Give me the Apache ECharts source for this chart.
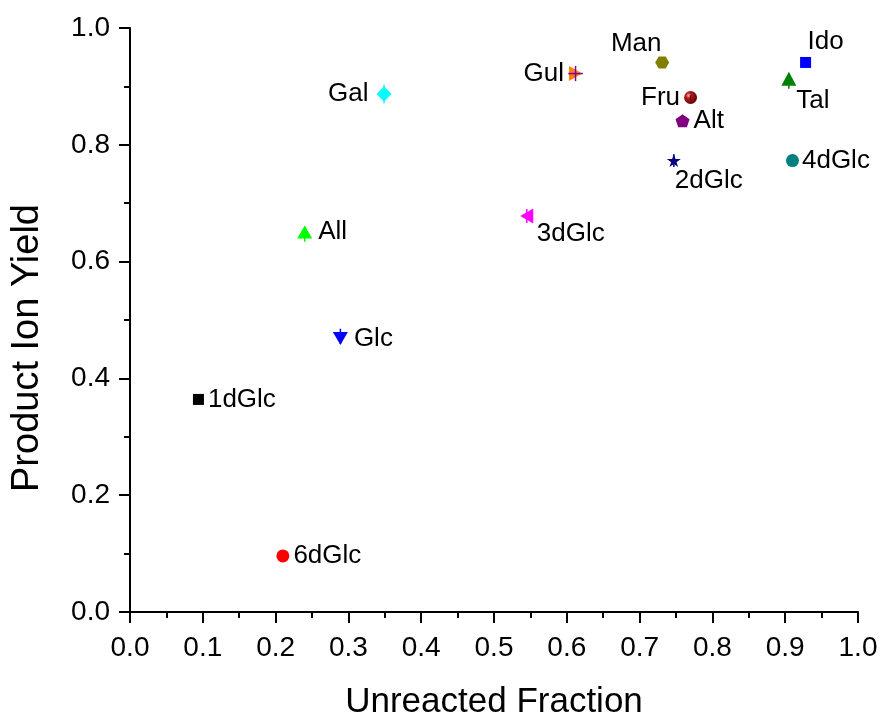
<!DOCTYPE html>
<html>
<head>
<meta charset="utf-8">
<script src="https://cdn.jsdelivr.net/npm/echarts@6/dist/echarts.min.js"></script>
<style>
  html, body { margin: 0; padding: 0; background: #fff; }
  #chart { width: 882px; height: 713px; }
</style>
</head>
<body>
<div id="chart"></div>
<script>
// Sugar isomers: unreacted fraction vs. product ion yield
const sugars        = ['1dGlc', '6dGlc', 'All', 'Glc', 'Gal', '3dGlc', 'Gul', 'Man', 'Fru', 'Alt', '2dGlc', 'Ido', 'Tal', '4dGlc'];
const unreacted     = [0.094, 0.210, 0.240, 0.289, 0.349, 0.545, 0.612, 0.731, 0.770, 0.759, 0.747, 0.928, 0.905, 0.910];
const ionYield      = [0.364, 0.096, 0.647, 0.472, 0.887, 0.678, 0.922, 0.941, 0.881, 0.841, 0.773, 0.941, 0.909, 0.773];
const ionYieldErr   = [0.004, 0.004, 0.013, 0.013, 0.016, 0.012, 0.013, 0.004, 0.004, 0.004, 0.011, 0.004, 0.013, 0.004];
const unreactedErr  = [0, 0, 0, 0, 0, 0.004, 0.010, 0, 0, 0, 0, 0, 0, 0];
const axisTicks     = [0, 0.1, 0.2, 0.3, 0.4, 0.5, 0.6, 0.7, 0.8, 0.9, 1.0];

const FONT = '"Liberation Sans", Arial, sans-serif';

const HEXAGON  = 'path://M0,6L3.5,0L10.5,0L14,6L10.5,12L3.5,12Z';
const PENTAGON = 'path://M10,0L20,7.3L16.2,19L3.8,19L0,7.3Z';
const STAR     = 'path://M10,0L12.4,7.2L20,7.2L13.8,11.8L16.2,19L10,14.5L3.8,19L6.2,11.8L0,7.2L7.6,7.2Z';

// marker look and label placement for each sugar
// (triangles pointing up/down sit on their centroid)
const markerStyle = {
  '1dGlc': { symbol: 'rect', size: 11, color: '#000000', label: { position: 'right', distance: 4 } },
  '6dGlc': { symbol: 'circle', size: 13, color: '#ff0000', label: { position: 'right', distance: 4 } },
  'All':   { symbol: 'triangle', size: [15, 13], offset: [0, -2.2], color: '#00ff00', label: { position: 'right', distance: 6 } },
  'Glc':   { symbol: 'triangle', size: [15, 13], offset: [0, 2.2], rotate: 180, color: '#0000ff', label: { position: 'right', distance: 6 } },
  'Gal':   { symbol: 'diamond', size: [15, 15], color: '#00ffff', label: { position: 'left', distance: 8 } },
  '3dGlc': { symbol: 'triangle', size: [15, 13], rotate: 90, color: '#ff00ff', label: { position: 'inside', offset: [44, 18] } },
  'Gul':   { symbol: 'triangle', size: [15, 13], rotate: -90, color: '#ff8000', errColor: '#8000a0', label: { position: 'left', distance: 5 } },
  'Man':   { symbol: HEXAGON, size: [14, 12], color: '#808000', label: { position: 'inside', offset: [-26, -19] } },
  'Fru':   { symbol: 'circle', size: 13, sphere: true, color: '#800000', label: { position: 'left', distance: 4 } },
  'Alt':   { symbol: PENTAGON, size: [14, 13], color: '#800080', label: { position: 'right', distance: 4 } },
  '2dGlc': { symbol: STAR, size: [14, 13], color: '#000080', label: { position: 'inside', offset: [35, 20] } },
  'Ido':   { symbol: 'rect', size: 11, color: '#0000ff', label: { position: 'inside', offset: [20, -21] } },
  'Tal':   { symbol: 'triangle', size: [15, 14], offset: [0, -2.3], color: '#008000', label: { position: 'inside', offset: [24, 22] } },
  '4dGlc': { symbol: 'circle', size: 13, color: '#008080', label: { position: 'right', distance: 3 } }
};

const points = sugars.map((name, i) => {
  const s = markerStyle[name];
  const color = s.sphere
    ? new echarts.graphic.RadialGradient(0.35, 0.35, 0.7, [
        { offset: 0, color: '#f0c0c0' },
        { offset: 0.3, color: '#b02020' },
        { offset: 1, color: '#600000' }
      ])
    : s.color;
  return {
    name: name,
    value: [unreacted[i], ionYield[i]],
    symbol: s.symbol,
    symbolSize: s.size,
    symbolRotate: s.rotate || 0,
    symbolOffset: s.offset || [0, 0],
    itemStyle: { color: color, opacity: 1 },
    label: Object.assign({
      show: true,
      formatter: name,
      color: '#000',
      fontFamily: FONT,
      fontSize: 26
    }, s.label)
  };
});

const errData = sugars.map((name, i) => [unreacted[i], ionYield[i], unreactedErr[i], ionYieldErr[i], i]);

function renderErr(params, api) {
  const x = api.value(0), y = api.value(1), ex = api.value(2), ey = api.value(3);
  const st = markerStyle[sugars[api.value(4)]];
  const style = { stroke: st.errColor || st.color, lineWidth: 1.5 };
  const children = [];
  if (ey > 0) {
    const top = api.coord([x, y + ey]);
    const bot = api.coord([x, y - ey]);
    children.push({ type: 'line', shape: { x1: top[0], y1: top[1], x2: bot[0], y2: bot[1] }, style: style });
  }
  if (ex > 0) {
    const l = api.coord([x - ex, y]);
    const r = api.coord([x + ex, y]);
    children.push({ type: 'line', shape: { x1: l[0], y1: l[1], x2: r[0], y2: r[1] }, style: style });
  }
  return { type: 'group', children: children };
}

const axisCommon = {
  type: 'value',
  min: 0,
  max: 1,
  nameLocation: 'middle',
  nameTextStyle: { fontFamily: FONT, fontSize: 35, color: '#000' },
  axisLine: { show: true, onZero: false, lineStyle: { color: '#000', width: 2 } },
  axisTick: { show: true, inside: false, length: 11, lineStyle: { color: '#000', width: 2 } },
  minorTick: { show: true, splitNumber: 2, length: 6, lineStyle: { color: '#000', width: 2 } },
  splitLine: { show: false },
  minorSplitLine: { show: false },
  axisLabel: {
    color: '#000',
    fontFamily: FONT,
    fontSize: 28,
    showMinLabel: true,
    showMaxLabel: true,
    hideOverlap: false,
    formatter: v => v.toFixed(1)
  }
};

const chart = echarts.init(document.getElementById('chart'), null, { renderer: 'canvas' });
chart.setOption({
  animation: false,
  backgroundColor: '#fff',
  grid: { left: 130, right: 24, top: 28, bottom: 101, containLabel: false, outerBoundsMode: 'none' },
  xAxis: Object.assign({}, axisCommon, {
    name: 'Unreacted Fraction',
    nameGap: 73,
    interval: axisTicks[1] - axisTicks[0],
    axisLabel: Object.assign({}, axisCommon.axisLabel, { margin: 22 })
  }),
  yAxis: Object.assign({}, axisCommon, {
    name: 'Product Ion Yield',
    nameGap: 83,
    nameTextStyle: { fontFamily: FONT, fontSize: 38, color: '#000', padding: [0, 56, 0, 0] },
    interval: 0.2,
    axisLabel: Object.assign({}, axisCommon.axisLabel, { margin: 20 })
  }),
  series: [
    { type: 'scatter', data: points, z: 2 },
    { type: 'custom', data: errData, renderItem: renderErr, z: 3, silent: true }
  ]
});
</script>
</body>
</html>
